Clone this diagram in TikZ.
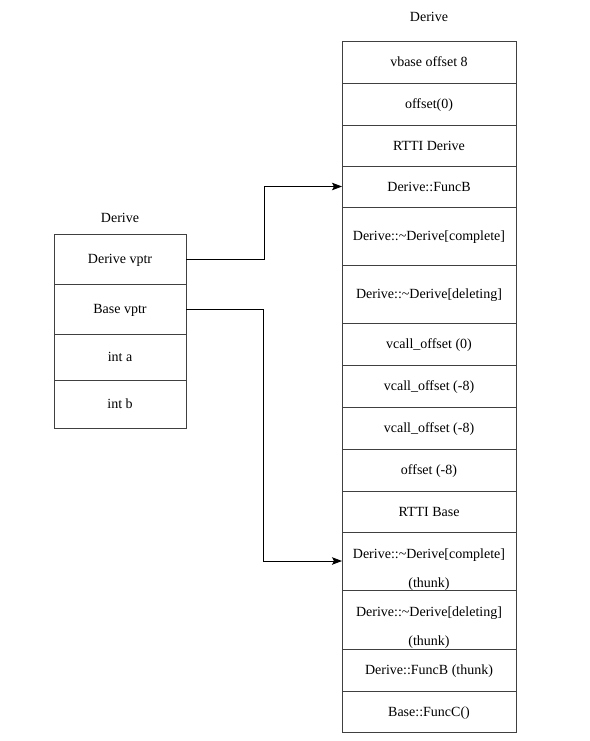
\documentclass[tikz,border=0pt]{standalone}
\usepackage{fontspec}
\setmainfont{Liberation Serif}
\usetikzlibrary{arrows.meta, positioning}

\begin{document}
\begin{tikzpicture}[
    x=1pt, y=-1pt,
    ->,
    >={Stealth[length=10pt, width=7.5pt, inset=2pt]},
    node distance=0pt,
    cell/.style={draw=black!75, line width=0.8pt, outer sep=0pt, inner sep=0pt,
        minimum height=42pt, text height=9.5pt, text depth=0pt,
        font=\fontsize{14}{16}\selectfont},
    objcell/.style={cell, minimum width=132pt},
    vtcell/.style={cell, minimum width=174pt},
    tallcell/.style={vtcell, minimum height=58pt},
    thunkcell/.style={tallcell, text height=, text depth=, align=center,
        font=\fontsize{14}{29}\selectfont},
    title/.style={font=\fontsize{14}{16}\selectfont},
]
    \useasboundingbox (0,0) rectangle (589,741);

    % object layout
    \node[title] (objtitle) at (120,218) {Derive};
    \node[objcell, minimum height=50pt, anchor=north] (dvptr) at (120,234) {Derive vptr};
    \node[objcell, minimum height=50pt, below=of dvptr] (bvptr) {Base vptr};
    \node[objcell, minimum height=46pt, below=of bvptr]  (inta)  {int a};
    \node[objcell, minimum height=48pt, below=of inta]   (intb)  {int b};

    % vtable
    \node[title] (vttitle) at (429,17) {Derive};
    \node[vtcell, anchor=north] (vbase) at (429,41) {vbase offset 8};
    \node[vtcell,    below=of vbase]   (off0)    {offset(0)};
    \node[vtcell,    below=of off0,  minimum height=41pt] (rttid) {RTTI Derive};
    \node[vtcell,    below=of rttid, minimum height=41pt] (funcb) {Derive::FuncB};
    \node[tallcell,  below=of funcb]   (dcomp)   {Derive::\textasciitilde Derive[complete]};
    \node[tallcell,  below=of dcomp]   (ddel)    {Derive::\textasciitilde Derive[deleting]};
    \node[vtcell,    below=of ddel]    (vcall0)  {vcall\_offset (0)};
    \node[vtcell,    below=of vcall0]  (vcalla)  {vcall\_offset (-8)};
    \node[vtcell,    below=of vcalla]  (vcallb)  {vcall\_offset (-8)};
    \node[vtcell,    below=of vcallb]  (offm8)   {offset (-8)};
    \node[vtcell,    below=of offm8, minimum height=41pt] (rttib) {RTTI Base};
    \node[thunkcell, below=of rttib]   (tcomp)   {\rule{0pt}{26pt}Derive::\textasciitilde Derive[complete]\\(thunk)};
    \node[thunkcell, below=of tcomp, minimum height=59pt] (tdel) {\rule{0pt}{26pt}Derive::\textasciitilde Derive[deleting]\\(thunk)};
    \node[vtcell,    below=of tdel]    (tfuncb)  {Derive::FuncB (thunk)};
    \node[vtcell,    below=of tfuncb, minimum height=41pt] (funcc) {Base::FuncC()};

    \draw[line width=0.8pt] (dvptr.east) -- ++(78,0) |- (funcb.west);
    \draw[line width=0.8pt] (bvptr.east) -- ++(77,0) |- (tcomp.west);
\end{tikzpicture}
\end{document}
